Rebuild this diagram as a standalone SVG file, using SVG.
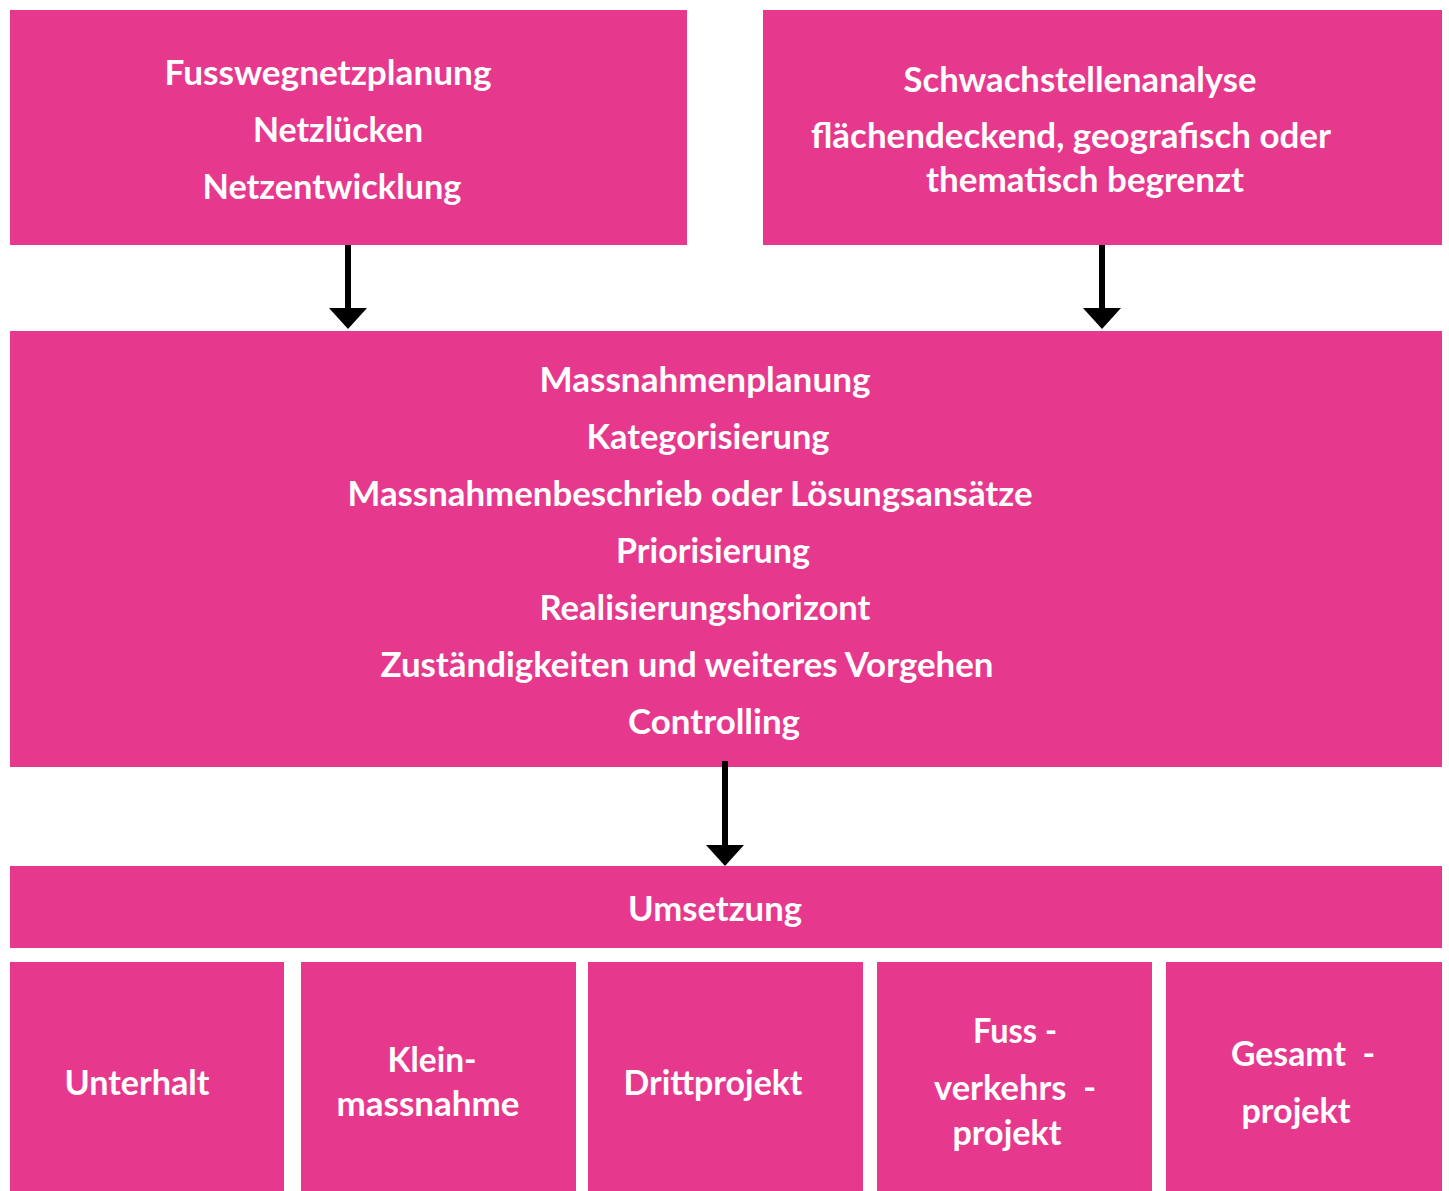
<svg xmlns="http://www.w3.org/2000/svg" width="1449" height="1191" viewBox="0 0 1449 1191">
<defs>
<style>
.box{fill:#E6398E;}
.t{font-family:Lato,"Open Sans","Liberation Sans",sans-serif;font-weight:700;font-size:35px;fill:#FFFFFF;text-anchor:middle;white-space:pre;}
.conn{stroke:#000000;stroke-width:6;fill:none;marker-end:url(#ah);}
</style>
<marker id="ah" viewBox="0 0 21 38" refX="0" refY="19" markerWidth="21" markerHeight="38" markerUnits="userSpaceOnUse" orient="auto">
<path d="M0,0 L21,19 L0,38 Z" fill="#000000"/>
</marker>
</defs>
<rect width="1449" height="1191" fill="#FFFFFF"/>

<g id="node-fusswegnetzplanung">
<rect class="box" x="10" y="10" width="677" height="235"/>
<text class="t" x="328" y="85" textLength="327" lengthAdjust="spacingAndGlyphs">Fusswegnetzplanung</text>
<text class="t" x="338" y="142" textLength="170" lengthAdjust="spacingAndGlyphs">Netzlücken</text>
<text class="t" x="332" y="199" textLength="259" lengthAdjust="spacingAndGlyphs">Netzentwicklung</text>
</g>

<g id="node-schwachstellenanalyse">
<rect class="box" x="763" y="10" width="679" height="235"/>
<text class="t" x="1080" y="92" textLength="353" lengthAdjust="spacingAndGlyphs">Schwachstellenanalyse</text>
<text class="t" x="1071" y="148" textLength="520" lengthAdjust="spacingAndGlyphs">flächendeckend, geografisch oder</text>
<text class="t" x="1085" y="192" textLength="318" lengthAdjust="spacingAndGlyphs">thematisch begrenzt</text>
</g>

<g id="node-massnahmenplanung">
<rect class="box" x="10" y="331" width="1432" height="436"/>
<text class="t" x="705" y="392" textLength="331" lengthAdjust="spacingAndGlyphs">Massnahmenplanung</text>
<text class="t" x="708" y="449" textLength="243" lengthAdjust="spacingAndGlyphs">Kategorisierung</text>
<text class="t" x="690" y="506" textLength="685" lengthAdjust="spacingAndGlyphs">Massnahmenbeschrieb oder Lösungsansätze</text>
<text class="t" x="713" y="563" textLength="194" lengthAdjust="spacingAndGlyphs">Priorisierung</text>
<text class="t" x="705" y="620" textLength="331" lengthAdjust="spacingAndGlyphs">Realisierungshorizont</text>
<text class="t" x="687" y="677" textLength="613" lengthAdjust="spacingAndGlyphs">Zuständigkeiten und weiteres Vorgehen</text>
<text class="t" x="714" y="734" textLength="172" lengthAdjust="spacingAndGlyphs">Controlling</text>
</g>

<g id="node-umsetzung">
<rect class="box" x="10" y="866" width="1432" height="82"/>
<text class="t" x="715" y="921" textLength="174" lengthAdjust="spacingAndGlyphs">Umsetzung</text>
</g>

<g id="node-unterhalt">
<rect class="box" x="10" y="962" width="274" height="229"/>
<text class="t" x="137" y="1095" textLength="145" lengthAdjust="spacingAndGlyphs">Unterhalt</text>
</g>

<g id="node-kleinmassnahme">
<rect class="box" x="301" y="962" width="275" height="229"/>
<text class="t" x="432" y="1072" textLength="89" lengthAdjust="spacingAndGlyphs">Klein-</text>
<text class="t" x="428" y="1116" textLength="183" lengthAdjust="spacingAndGlyphs">massnahme</text>
</g>

<g id="node-drittprojekt">
<rect class="box" x="588" y="962" width="275" height="229"/>
<text class="t" x="713" y="1095" textLength="179" lengthAdjust="spacingAndGlyphs">Drittprojekt</text>
</g>

<g id="node-fussverkehrsprojekt">
<rect class="box" x="877" y="962" width="275" height="229"/>
<text class="t" x="1015" y="1043" textLength="84" lengthAdjust="spacingAndGlyphs">Fuss -</text>
<text class="t" x="1015" y="1100" textLength="162" lengthAdjust="spacingAndGlyphs">verkehrs  -</text>
<text class="t" x="1007" y="1145" textLength="109" lengthAdjust="spacingAndGlyphs">projekt</text>
</g>

<g id="node-gesamtprojekt">
<rect class="box" x="1166" y="962" width="276" height="229"/>
<text class="t" x="1303" y="1066" textLength="144" lengthAdjust="spacingAndGlyphs">Gesamt  -</text>
<text class="t" x="1296" y="1123" textLength="109" lengthAdjust="spacingAndGlyphs">projekt</text>
</g>

<g id="connectors">
<line class="conn" x1="348" y1="245" x2="348" y2="308"/>
<line class="conn" x1="1102" y1="245" x2="1102" y2="308"/>
<line class="conn" x1="725" y1="761" x2="725" y2="845"/>
</g>
</svg>
